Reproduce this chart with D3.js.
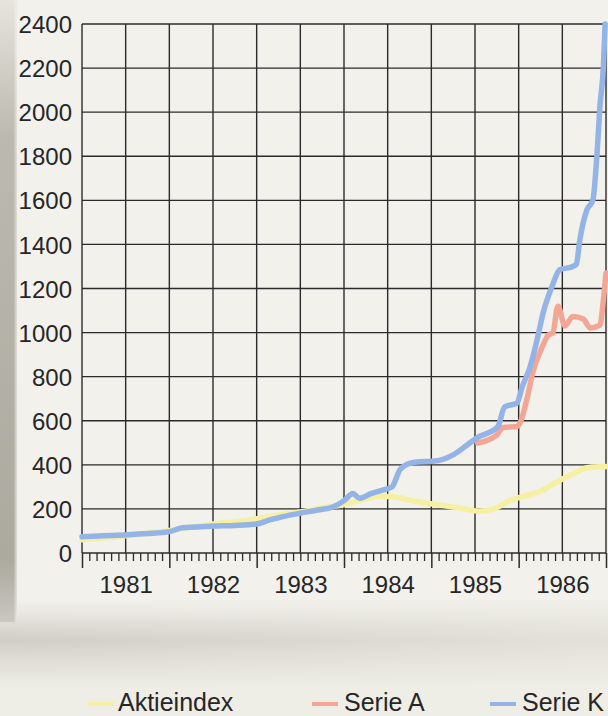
<!DOCTYPE html>
<html>
<head>
<meta charset="utf-8">
<script src="https://cdn.jsdelivr.net/npm/d3@7"></script>
<style>
  body { margin: 0; background: #eeede6; }
  svg { display: block; }
  text { font-family: "Liberation Sans", Arial, sans-serif; fill: #262626; }
</style>
</head>
<body>
<svg id="chart" width="608" height="716"></svg>
<script>
// values, [year, value]
const aktieindex = [
  [1981.00, 60], [1981.25, 68], [1981.50, 78], [1981.75, 90], [1982.00, 102],
  [1982.25, 118], [1982.50, 132], [1982.75, 142], [1983.00, 155], [1983.25, 172],
  [1983.50, 186], [1983.75, 205], [1984.00, 220], [1984.20, 240], [1984.42, 258],
  [1984.56, 255], [1984.80, 236], [1985.05, 220], [1985.30, 206], [1985.55, 190],
  [1985.70, 198], [1985.90, 238], [1986.10, 262], [1986.25, 280], [1986.45, 325],
  [1986.65, 365], [1986.80, 388], [1987.00, 392]
]

const serieA = [
  [1985.53, 499], [1985.75, 535], [1985.82, 570], [1985.98, 574], [1986.02, 594],
  [1986.10, 708], [1986.16, 817], [1986.27, 935], [1986.34, 989], [1986.39, 998],
  [1986.45, 1120], [1986.53, 1030], [1986.62, 1073], [1986.74, 1062], [1986.82, 1021],
  [1986.93, 1034], [1986.97, 1148], [1987.00, 1270]
]

const serieK = [
  [1981.00, 74], [1981.25, 78], [1981.49, 82], [1981.75, 88], [1982.00, 97],
  [1982.15, 115], [1982.30, 118], [1982.51, 122], [1982.75, 125], [1983.00, 132],
  [1983.15, 150], [1983.30, 165], [1983.50, 181], [1983.70, 195], [1983.87, 209],
  [1984.01, 240], [1984.10, 270], [1984.18, 248], [1984.30, 268], [1984.45, 286],
  [1984.55, 300], [1984.64, 377], [1984.76, 408], [1984.87, 414], [1985.02, 416],
  [1985.25, 445], [1985.41, 490], [1985.52, 522], [1985.76, 572], [1985.84, 663],
  [1985.98, 680], [1986.04, 753], [1986.13, 844], [1986.21, 966], [1986.28, 1089],
  [1986.38, 1207], [1986.47, 1285], [1986.62, 1300], [1986.66, 1310], [1986.70, 1420],
  [1986.78, 1556], [1986.85, 1602], [1986.90, 1829], [1986.93, 2024], [1986.97, 2205],
  [1986.99, 2400]
]

const years = [1981, 1982, 1983, 1984, 1985, 1986]
const yTicks = [0, 200, 400, 600, 800, 1000, 1200, 1400, 1600, 1800, 2000, 2200, 2400]
const legendNames = ["Aktieindex", "Serie A", "Serie K"]
const colors = ["#f5f0a2", "#f3a696", "#94b3e6"]

let svg = d3.select("#chart"),
    plotLeft = 82, plotRight = 606, plotTop = 24, plotBottom = 553

let x = d3.scaleLinear().domain([1981, 1987]).range([plotLeft, plotRight]),
    y = d3.scaleLinear().domain([0, 2400]).range([plotBottom, plotTop])

// paper background with the scan shadows
let defs = svg.append("defs")
let gl = defs.append("linearGradient").attr("id", "leftShade")
  .attr("x1", 0).attr("y1", 0).attr("x2", 0).attr("y2", 1)
gl.append("stop").attr("offset", "0%").attr("stop-color", "#e6e4dc")
gl.append("stop").attr("offset", "22%").attr("stop-color", "#bcb9b0")
gl.append("stop").attr("offset", "90%").attr("stop-color", "#aca99f")
gl.append("stop").attr("offset", "100%").attr("stop-color", "#c9c7c0")

let gh = defs.append("linearGradient").attr("id", "leftEdge")
  .attr("x1", 0).attr("y1", 0).attr("x2", 1).attr("y2", 0)
gh.append("stop").attr("offset", "0%").attr("stop-color", "#fff").attr("stop-opacity", 0)
gh.append("stop").attr("offset", "80%").attr("stop-color", "#fff").attr("stop-opacity", 0)
gh.append("stop").attr("offset", "100%").attr("stop-color", "#f2f1ec").attr("stop-opacity", 0.7)

let gb = defs.append("linearGradient").attr("id", "bottomShade")
  .attr("x1", 0).attr("y1", 0).attr("x2", 0).attr("y2", 1)
gb.append("stop").attr("offset", "0%").attr("stop-color", "#d4d2cb").attr("stop-opacity", 0)
gb.append("stop").attr("offset", "45%").attr("stop-color", "#d0cec7").attr("stop-opacity", 1)
gb.append("stop").attr("offset", "100%").attr("stop-color", "#d8d6cf").attr("stop-opacity", 0)

let gr = defs.append("linearGradient").attr("id", "bottomFade")
  .attr("x1", 0).attr("y1", 0).attr("x2", 1).attr("y2", 0)
gr.append("stop").attr("offset", "0%").attr("stop-color", "#eeede6").attr("stop-opacity", 0)
gr.append("stop").attr("offset", "100%").attr("stop-color", "#eeede6").attr("stop-opacity", 0.6)

svg.append("rect").attr("width", 608).attr("height", 716).attr("fill", "#eeede6")
svg.append("rect").attr("x", 0).attr("y", 0).attr("width", 608).attr("height", 620).attr("fill", "#f2f1ec")
svg.append("rect").attr("x", 0).attr("y", 600).attr("width", 608).attr("height", 90).attr("fill", "url(#bottomShade)")
svg.append("rect").attr("x", 0).attr("y", 600).attr("width", 608).attr("height", 90).attr("fill", "url(#bottomFade)")
svg.append("rect").attr("x", 0).attr("y", 0).attr("width", 17).attr("height", 622).attr("fill", "url(#leftShade)")
svg.append("rect").attr("x", 0).attr("y", 0).attr("width", 17).attr("height", 622).attr("fill", "url(#leftEdge)")

// grid
let grid = svg.append("g").attr("stroke", "#2b2b2b").attr("stroke-width", 1.4)
grid.selectAll("line.h")
  .data(yTicks).enter()
  .append("line")
  .attr("x1", plotLeft).attr("x2", plotRight)
  .attr("y1", d => y(d)).attr("y2", d => y(d))

let halfYears = years.flatMap(yr => [yr, yr + 0.5]).concat([1987])
grid.selectAll("line.v")
  .data(halfYears).enter()
  .append("line")
  .attr("x1", d => x(d)).attr("x2", d => x(d))
  .attr("y1", plotTop).attr("y2", plotBottom)

// monthly ticks and year ticks under the zero line
let months = d3.range(0, 72).map(i => 1981 + i / 12).filter(m => Math.abs(m - Math.round(m)) > 0.001)
svg.append("g")
  .attr("transform", `translate(0,${plotBottom})`)
  .call(d3.axisBottom(x).tickValues(months).tickSize(8).tickFormat(""))
  .call(g => g.select(".domain").remove())
  .call(g => g.selectAll("line").attr("stroke", "#2b2b2b").attr("stroke-width", 1.3))

svg.append("g")
  .attr("transform", `translate(0,${plotBottom})`)
  .call(d3.axisBottom(x).tickValues(years.concat([1987])).tickSize(15).tickFormat(""))
  .call(g => g.select(".domain").remove())
  .call(g => g.selectAll("line").attr("stroke", "#2b2b2b").attr("stroke-width", 1.5))

svg.append("g")
  .attr("transform", `translate(0,${plotBottom})`)
  .call(d3.axisBottom(x).tickValues(years.map(d => d + 0.5)).tickSize(0).tickPadding(23)
    .tickFormat(d => String(Math.floor(d))))
  .call(g => g.select(".domain").remove())
  .call(g => g.selectAll("text").style("font-size", "24px").attr("fill", "#262626"))

svg.append("g")
  .attr("transform", `translate(${plotLeft},0)`)
  .call(d3.axisLeft(y).tickValues(yTicks).tickSize(0).tickPadding(10).tickFormat(d => String(d)))
  .call(g => g.select(".domain").remove())
  .call(g => g.selectAll("text").style("font-size", "24px").attr("fill", "#262626").attr("dy", "0.36em"))

// series lines
let line = d3.line()
  .x(d => x(d[0]))
  .y(d => y(d[1]))
  .curve(d3.curveMonotoneX)

let series = [aktieindex, serieA, serieK]
svg.append("g")
  .selectAll("path")
  .data(series).enter()
  .append("path")
  .attr("d", line)
  .attr("fill", "none")
  .attr("stroke", (d, i) => colors[i])
  .attr("stroke-width", 5.5)
  .attr("stroke-linejoin", "round")
  .attr("stroke-linecap", "round")

// legend
let legendX = [88, 312, 490]
let legend = svg.append("g")
  .selectAll("g")
  .data(legendNames).enter()
  .append("g")
  .attr("transform", (d, i) => `translate(${legendX[i]},704)`)

legend.append("line")
  .attr("x1", 0).attr("x2", 26)
  .attr("stroke", (d, i) => colors[i])
  .attr("stroke-width", 4)

legend.append("text")
  .attr("x", (d, i) => i == 0 ? 30 : 32)
  .attr("y", 7)
  .style("font-size", "25px")
  .text(d => d)
</script>
</body>
</html>
